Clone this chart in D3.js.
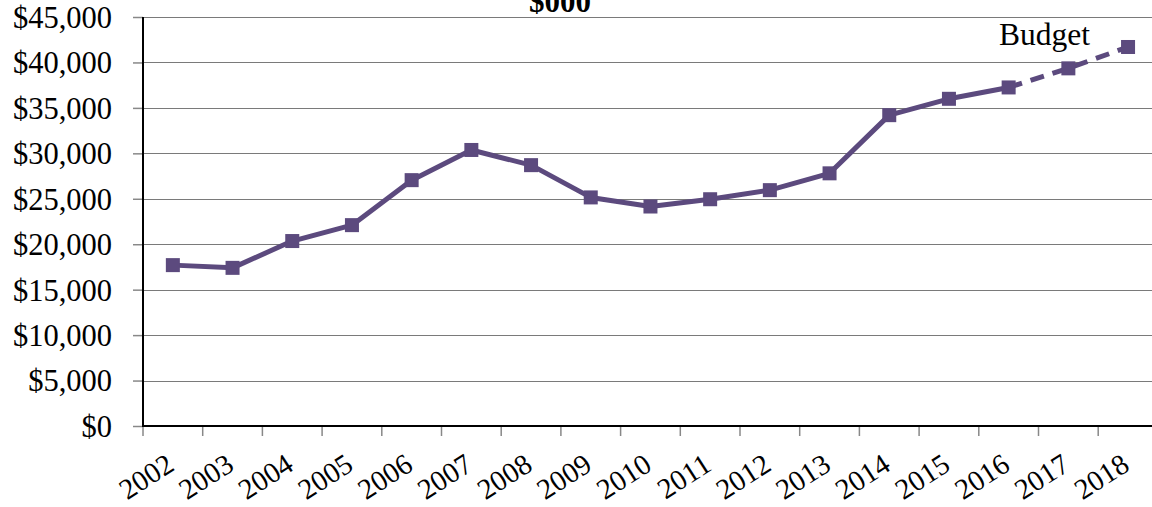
<!DOCTYPE html>
<html>
<head>
<meta charset="utf-8">
<script src="https://cdn.jsdelivr.net/npm/d3@7/dist/d3.min.js"></script>
<style>
  html, body { margin: 0; padding: 0; background: #fff; overflow: hidden; }
  svg { display: block; }
  text { font-family: "Liberation Serif", "Times New Roman", serif; fill: #000; }
</style>
</head>
<body>
<svg id="chart" width="1152" height="507"></svg>
<script>
const years = ["2002","2003","2004","2005","2006","2007","2008","2009","2010","2011","2012","2013","2014","2015","2016","2017","2018"];
const actual = [17700, 17400, 20350, 22100, 27050, 30370, 28700, 25150, 24150, 24950, 25950, 27800, 34200, 36000, 37250, null, null];
const budget = [null, null, null, null, null, null, null, null, null, null, null, null, null, null, 37250, 39350, 41700];
const yTicks = [0, 5000, 10000, 15000, 20000, 25000, 30000, 35000, 40000, 45000];
const title = "$000";
const budgetLabel = "Budget";

const svg = d3.select("#chart");
const plotLeft = 143, bandW = 59.7, plotTop = 17, plotBottom = 426;
const x = d3.scaleBand().domain(years).range([plotLeft, plotLeft + bandW * years.length]).padding(0);
const y = d3.scaleLinear().domain([0, 45000]).range([plotBottom, plotTop]);
const cx = d => x(d) + x.bandwidth() / 2;
const color = "#5c4a7e";

// gridlines
svg.append("g").selectAll("line").data(yTicks.filter(t => t > 0)).join("line")
  .attr("x1", plotLeft).attr("x2", 1152)
  .attr("y1", d => Math.round(y(d)) + 0.5).attr("y2", d => Math.round(y(d)) + 0.5)
  .attr("stroke", "#7a7a7a").attr("stroke-width", 1.2);

// y axis
const yAxis = d3.axisLeft(y).tickValues(yTicks).tickSize(10).tickPadding(21)
  .tickFormat(d => "$" + d3.format(",")(d));
const gy = svg.append("g").attr("transform", `translate(${plotLeft},0)`).call(yAxis);
gy.select(".domain").remove();
gy.selectAll(".tick line").attr("stroke", "#888").attr("stroke-width", 1.5);
gy.selectAll(".tick text").attr("font-size", "30.5px").attr("font-family", "Liberation Serif").attr("dy", "0.34em");

// x axis ticks
svg.append("g").selectAll("line").data(years).join("line")
  .attr("x1", d => x(d)).attr("x2", d => x(d))
  .attr("y1", plotBottom).attr("y2", plotBottom + 10)
  .attr("stroke", "#888").attr("stroke-width", 1.5);

svg.append("g").selectAll("text").data(years).join("text")
  .attr("transform", d => `translate(${cx(d) + 3},${469}) rotate(-33)`)
  .attr("text-anchor", "end")
  .attr("font-size", "29px")
  .text(d => d);

// axis lines
svg.append("line").attr("x1", plotLeft).attr("x2", plotLeft).attr("y1", plotTop).attr("y2", plotBottom + 1)
  .attr("stroke", "#000").attr("stroke-width", 2);
svg.append("line").attr("x1", plotLeft).attr("x2", 1152).attr("y1", plotBottom).attr("y2", plotBottom)
  .attr("stroke", "#000").attr("stroke-width", 2);

// lines
const line = d3.line().defined(d => d[1] != null).x(d => cx(d[0])).y(d => y(d[1]));
svg.append("path").datum(years.map((yr, i) => [yr, actual[i]]))
  .attr("d", line).attr("fill", "none").attr("stroke", color)
  .attr("stroke-width", 5).attr("stroke-linejoin", "round");
svg.append("path").datum(years.map((yr, i) => [yr, budget[i]]))
  .attr("d", line).attr("fill", "none").attr("stroke", color)
  .attr("stroke-width", 5).attr("stroke-dasharray", "14,9");

// markers
const pts = years.map((yr, i) => [yr, actual[i] != null ? actual[i] : budget[i]]);
const ms = 14;
svg.append("g").selectAll("rect").data(pts).join("rect")
  .attr("x", d => cx(d[0]) - ms / 2).attr("y", d => y(d[1]) - ms / 2)
  .attr("width", ms).attr("height", ms).attr("fill", color);

// title
svg.append("text").attr("x", 560).attr("y", 12).attr("text-anchor", "middle")
  .attr("font-size", "31px").attr("font-weight", "bold").text(title);

// budget label
svg.append("text").attr("x", 999).attr("y", 45).attr("font-size", "31.5px").text(budgetLabel);
</script>
</body>
</html>
